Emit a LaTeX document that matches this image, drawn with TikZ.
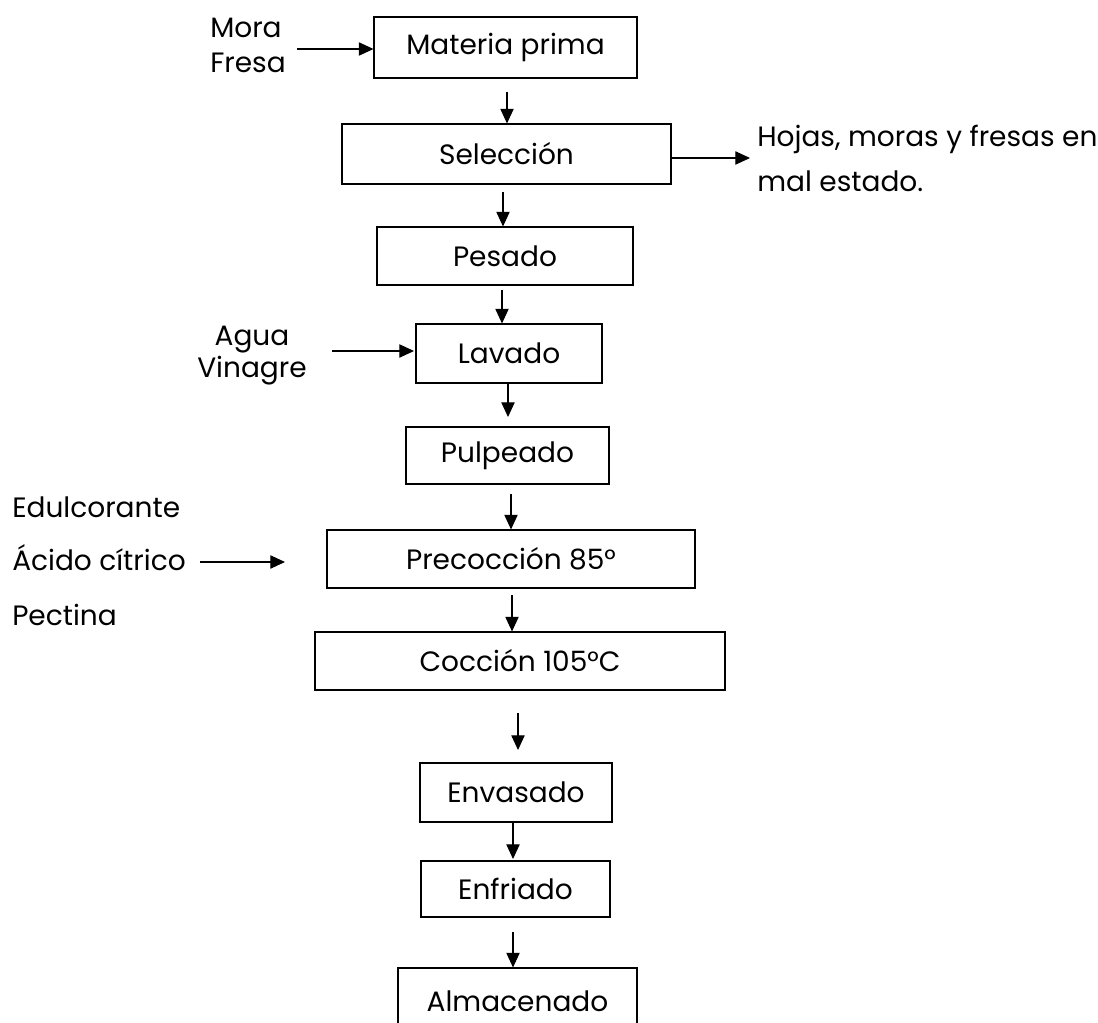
\documentclass[tikz,border=0pt]{standalone}
\usepackage{fontspec}
\setmainfont{Poppins}
\usetikzlibrary{arrows.meta}
\begin{document}
\begin{tikzpicture}[x=0.75pt,y=-0.75pt,
  every node/.style={font=\fontsize{21}{25}\selectfont},
  box/.style={draw, line width=0.8pt, inner sep=0pt},
  lbl/.style={inner sep=0pt},
  arr/.style={line width=0.8pt, -{Triangle[length=11pt,width=10pt]}}]
\path[use as bounding box] (0,0) rectangle (1098,1023);
\clip (0,0) rectangle (1098,1023);
% boxes
\node[box, minimum width=197.25pt, minimum height=45.75pt] (mat) at (505.5,47.5) {Materia prima};
\node[box, minimum width=246.75pt, minimum height=45pt] (sel) at (506.5,154) {Selección};
\node[box, minimum width=192pt, minimum height=43.5pt] (pes) at (505,256) {Pesado};
\node[box, minimum width=139.5pt, minimum height=44.25pt] (lav) at (509,353.5) {Lavado};
\node[box, minimum width=152.25pt, minimum height=42.75pt] (pul) at (507.5,455.5) {Pulpeado};
\node[box, minimum width=276pt, minimum height=43.5pt] (pre) at (511,559) {Precocción 85°};
\node[box, minimum width=307.5pt, minimum height=43.5pt] (coc) at (520,661) {Cocción 105°C};
\node[box, minimum width=144pt, minimum height=44.25pt] (env) at (516,792.5) {Envasado};
\node[box, minimum width=141.75pt, minimum height=42pt] (enf) at (515.5,889) {Enfriado};
\node[box, minimum width=179.25pt, minimum height=60pt, text depth=0pt] (alm) at (517.5,1008) {};
\node[lbl, anchor=base] (almt) at (517.5,1011) {Almacenado};
% side labels
\node[lbl, anchor=base west] (mora) at (210,38) {Mora};
\node[lbl, anchor=base west] (fresa) at (210,73) {Fresa};
\node[lbl, anchor=base west] (hojas) at (757,147) {Hojas, moras y fresas en};
\node[lbl, anchor=base west] (mal) at (757,192) {mal estado.};
\node[lbl, anchor=base] (agua) at (252,345) {Agua};
\node[lbl, anchor=base] (vin) at (252,377) {Vinagre};
\node[lbl, anchor=base west] (edu) at (12,517) {Edulcorante};
\node[lbl, anchor=base west] (aci) at (12,570) {Ácido cítrico};
\node[lbl, anchor=base west] (pec) at (12,625) {Pectina};
% horizontal arrows
\coordinate (m0) at (297,49);
\draw[arr] (m0) -- (m0 -| mat.west);
\coordinate (h1) at (750,158);
\draw[arr] (h1 -| sel.east) -- (h1);
\coordinate (w0) at (332,351);
\coordinate (w1) at (414,351);
\draw[arr] (w0) -- (w1);
\coordinate (c0) at (200,562);
\coordinate (c1) at (285,562);
\draw[arr] (c0) -- (c1);
% vertical arrows
\coordinate (v1) at (507,92);
\draw[arr] (v1) -- (v1 |- sel.north);
\coordinate (v2) at (503,192);
\draw[arr] (v2) -- (v2 |- pes.north);
\coordinate (v3) at (502,290);
\draw[arr] (v3) -- (v3 |- lav.north);
\coordinate (v4) at (508,417);
\draw[arr] (v4 |- lav.south) -- (v4);
\coordinate (v5) at (511,494);
\draw[arr] (v5) -- (v5 |- pre.north);
\coordinate (v6) at (512,595);
\draw[arr] (v6) -- (v6 |- coc.north);
\coordinate (v7a) at (518,713);
\coordinate (v7b) at (518,750);
\draw[arr] (v7a) -- (v7b);
\coordinate (v8) at (513,859);
\draw[arr] (v8 |- env.south) -- (v8);
\coordinate (v9) at (513,932);
\draw[arr] (v9) -- (v9 |- alm.north);
\end{tikzpicture}
\end{document}
